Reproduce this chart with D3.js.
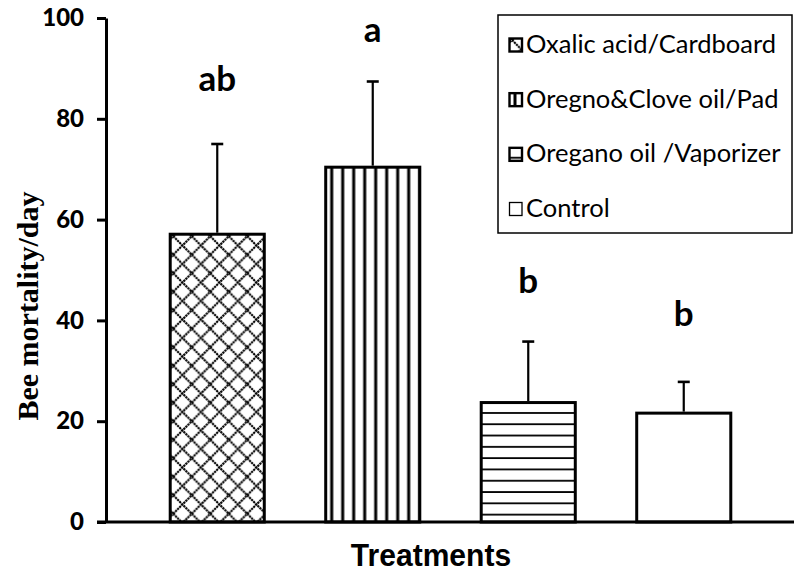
<!DOCTYPE html>
<html>
<head>
<meta charset="utf-8">
<script src="https://cdn.jsdelivr.net/npm/d3@7"></script>
<style>
  html, body { margin: 0; padding: 0; background: #fff; }
  svg { display: block; }
</style>
</head>
<body>
<svg id="chart" width="794" height="577"></svg>
<script>
// ---- data ----
const categories = ["Oxalic acid/Cardboard", "Oregno&Clove oil/Pad", "Oregano oil /Vaporizer", "Control"];
const means = [57.1, 70.4, 23.7, 21.6];
const errors = [17.9, 17.0, 12.1, 6.2];
const letters = ["ab", "a", "b", "b"];
const letterLevels = [85.5, 95.2, 45.4, 38.9];
const patternKinds = ["cross", "vertical", "horizontal", "none"];
const yTicks = [0, 20, 40, 60, 80, 100];
const yTitle = "Bee mortality/day";
const xTitle = "Treatments";

// ---- layout ----
const svg = d3.select("#chart");
const y = d3.scaleLinear().domain([0, 100]).range([522, 18]);
const x = d3.scaleBand().domain(categories).range([139.5, 761.5])
  .paddingInner(0.395).paddingOuter(0.1975);

const defs = svg.append("defs");

function makePattern(id, kind, ox, oy) {
  if (kind === "cross") {
    const p = defs.append("pattern").attr("id", id).attr("patternUnits", "userSpaceOnUse")
      .attr("x", ox + 3).attr("y", oy + 2).attr("width", 18.5).attr("height", 18.5);
    p.append("rect").attr("width", 18.5).attr("height", 18.5).attr("fill", "#fff");
    p.append("path").attr("d", "M0,0L18.5,18.5M0,18.5L18.5,0M-1,1L1,-1M17.5,19.5L19.5,17.5")
      .attr("stroke", "#000").attr("stroke-width", 2.1).attr("stroke-dasharray", "2.2 0.7");
  } else if (kind === "vertical") {
    const p = defs.append("pattern").attr("id", id).attr("patternUnits", "userSpaceOnUse")
      .attr("x", ox).attr("y", 0).attr("width", 11).attr("height", 10);
    p.append("rect").attr("width", 11).attr("height", 10).attr("fill", "#fff");
    p.append("rect").attr("x", 4.5).attr("width", 3).attr("height", 10).attr("fill", "#000");
  } else if (kind === "horizontal") {
    const p = defs.append("pattern").attr("id", id).attr("patternUnits", "userSpaceOnUse")
      .attr("x", 0).attr("y", oy).attr("width", 10).attr("height", 11.3);
    p.append("rect").attr("width", 10).attr("height", 11.3).attr("fill", "#fff");
    p.append("rect").attr("y", 9.5).attr("width", 10).attr("height", 2.8).attr("fill", "#000");
  }
}

categories.forEach((c, i) => {
  makePattern("pat" + i, patternKinds[i], x(c), y(means[i]));
});

// ---- bars ----
svg.append("g").selectAll("rect").data(categories).join("rect")
  .attr("x", d => x(d))
  .attr("y", (d, i) => y(means[i]))
  .attr("width", x.bandwidth())
  .attr("height", (d, i) => y(0) - y(means[i]))
  .attr("fill", (d, i) => patternKinds[i] === "none" ? "#fff" : `url(#pat${i})`)
  .attr("stroke", "#000").attr("stroke-width", 3);

// ---- error bars (upper only) ----
const eb = svg.append("g").attr("stroke", "#000").attr("stroke-width", 2.2);
categories.forEach((c, i) => {
  const cx = x(c) + x.bandwidth() / 2;
  eb.append("line").attr("x1", cx).attr("x2", cx)
    .attr("y1", y(means[i]) - 1.5).attr("y2", y(means[i] + errors[i]));
  eb.append("line").attr("x1", cx - 6).attr("x2", cx + 6)
    .attr("y1", y(means[i] + errors[i])).attr("y2", y(means[i] + errors[i])).attr("stroke-width", 2.6);
});

// ---- significance letters ----
svg.append("g").selectAll("text").data(categories).join("text")
  .attr("x", d => x(d) + x.bandwidth() / 2)
  .attr("y", (d, i) => y(letterLevels[i]))
  .attr("text-anchor", "middle")
  .attr("font-family", "Lato, sans-serif").attr("font-weight", "bold").attr("font-size", 35)
  .text((d, i) => letters[i]);

// ---- axes ----
const yAxis = d3.axisLeft(y).tickValues(yTicks).tickSize(9).tickSizeOuter(0).tickPadding(13);
const gy = svg.append("g").attr("transform", "translate(106,0)").call(yAxis);
gy.select(".domain").attr("stroke", "#000").attr("stroke-width", 3);
gy.selectAll(".tick line").attr("stroke", "#000").attr("stroke-width", 3);
gy.selectAll(".tick text").attr("font-family", "Lato, sans-serif").attr("font-weight", "900")
  .attr("font-size", 24).attr("fill", "#000");

svg.append("line").attr("x1", 97).attr("x2", 794).attr("y1", y(0)).attr("y2", y(0))
  .attr("stroke", "#000").attr("stroke-width", 3);

// ---- axis titles ----
svg.append("text").attr("transform", "translate(38,306) rotate(-90)")
  .attr("text-anchor", "middle")
  .attr("font-family", "'Liberation Serif', 'Times New Roman', serif").attr("font-weight", "bold")
  .attr("font-size", 30).text(yTitle);

svg.append("text").attr("x", 431).attr("y", 566).attr("text-anchor", "middle")
  .attr("font-family", "'Liberation Sans', Arial, sans-serif").attr("font-weight", "bold")
  .attr("font-size", 31).attr("transform", "translate(431,0) scale(0.97,1) translate(-431,0)")
  .text(xTitle);

// ---- legend ----
const lg = svg.append("g");
lg.append("rect").attr("x", 498).attr("y", 15).attr("width", 294).attr("height", 218)
  .attr("fill", "#fff").attr("stroke", "#000").attr("stroke-width", 1.5);
const rowY = d3.scalePoint().domain(categories).range([53, 217]);
categories.forEach((c, i) => {
  const by = rowY(c);
  makePattern("lpat" + i, patternKinds[i], 509, by - 15);
  lg.append("rect").attr("x", 509.5).attr("y", by - 14.5).attr("width", 12.5).attr("height", 13)
    .attr("fill", patternKinds[i] === "none" ? "#fff" : `url(#lpat${i})`)
    .attr("stroke", "#000").attr("stroke-width", i === 3 ? 1.3 : 2.4);
  lg.append("text").attr("x", 526).attr("y", by)
    .attr("font-family", "Lato, sans-serif").attr("font-size", 25.5).attr("fill", "#000")
    .text(c);
});
</script>
</body>
</html>
